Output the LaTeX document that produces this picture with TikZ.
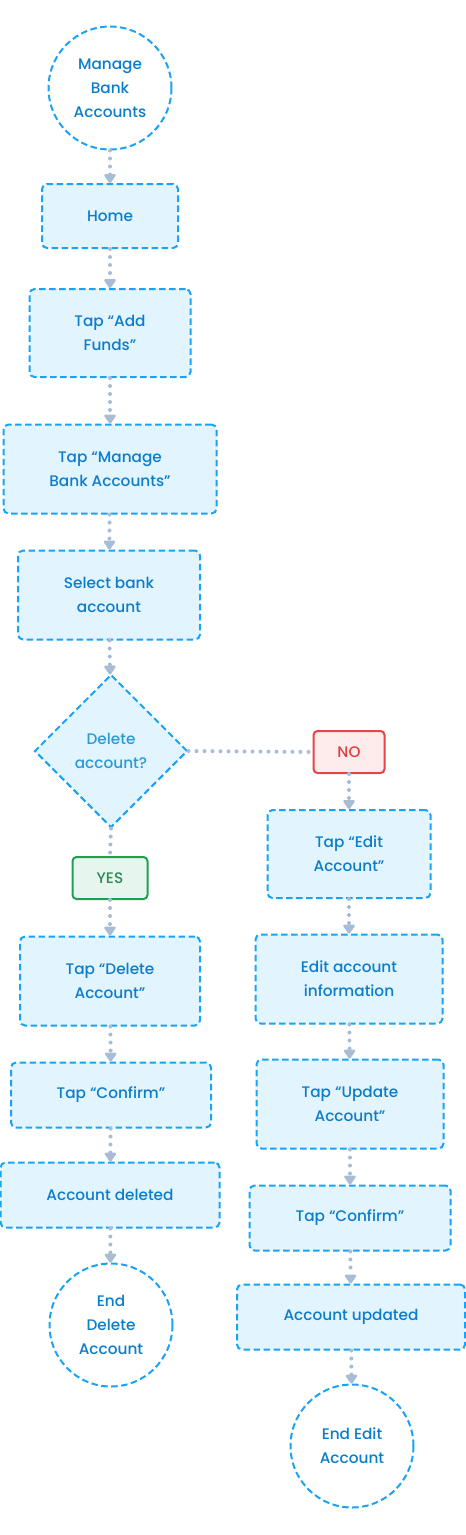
\documentclass[tikz,border=0pt]{standalone}
\usepackage{fontspec}
\setmainfont{Poppins}[UprightFont=* Medium]
\usetikzlibrary{shapes.geometric,arrows.meta}
\definecolor{bblue}{HTML}{1AA3F5}
\definecolor{bfill}{HTML}{E2F4FD}
\definecolor{btext}{HTML}{0C7DCB}
\definecolor{dtext}{HTML}{2A9AD6}
\definecolor{conncol}{HTML}{A8BCD3}
\definecolor{nofill}{HTML}{FEEBEB}
\definecolor{nodraw}{HTML}{E24646}
\definecolor{notext}{HTML}{E03E3E}
\definecolor{yesfill}{HTML}{E6F6EE}
\definecolor{yesdraw}{HTML}{1FA050}
\definecolor{yestext}{HTML}{2E8A58}
\tikzset{
  x=1pt, y=-1pt,
  base/.style={align=center, inner sep=0pt, font=\fontsize{15.3}{24}\selectfont},
  box/.style={base, draw=bblue, fill=bfill, text=btext, line width=2pt,
    dash pattern=on 6.5pt off 3.5pt, rounded corners=5pt},
  endc/.style={base, circle, draw=bblue, fill=white, text=btext, line width=2pt,
    dash pattern=on 6.5pt off 3.5pt, minimum size=123pt},
  dia/.style={base, diamond, aspect=1, draw=bblue, fill=bfill, text=dtext, line width=2pt,
    dash pattern=on 6.5pt off 3.5pt, minimum size=153pt},
  nobox/.style={base, draw=nodraw, fill=nofill, text=notext, line width=2pt, rounded corners=4pt,
    minimum width=71pt, minimum height=42pt},
  yesbox/.style={base, draw=yesdraw, fill=yesfill, text=yestext, line width=2pt, rounded corners=4pt,
    minimum width=75pt, minimum height=42pt},
  conn/.style={draw=conncol, line width=4pt, line cap=round, dash pattern=on 0pt off 8pt},
  arr/.style={conn, -{Triangle[width=13pt,length=10pt,round]}},
}
\begin{document}
\begin{tikzpicture}
\useasboundingbox (0,0) rectangle (466,1535);
% left column
\node[endc] (start) at (110,88) {Manage\\Bank\\Accounts};
\node[box, minimum width=136pt, minimum height=64pt] (home) at (110,216) {Home};
\node[box, minimum width=161pt, minimum height=88pt] (add) at (110,333) {Tap “Add\\Funds”};
\node[box, minimum width=213pt, minimum height=89pt] (manage) at (110,469) {Tap “Manage\\Bank Accounts”};
\node[box, minimum width=182pt, minimum height=89pt] (select) at (109,595) {Select bank\\account};
\node[dia] (dec) at (111,751) {Delete\\account?};
\node[yesbox] (yes) at (110,878) {YES};
\node[box, minimum width=180pt, minimum height=89pt] (del) at (110,981) {Tap “Delete\\Account”};
\node[box, minimum width=200pt, minimum height=65pt] (conf1) at (111,1095) {Tap “Confirm”};
\node[box, minimum width=219pt, minimum height=65pt] (deleted) at (110,1195) {Account deleted};
\node[endc] (end1) at (111,1325) {End\\Delete\\Account};
% right column
\node[nobox] (no) at (349,752) {NO};
\node[box, minimum width=163pt, minimum height=88pt] (edit) at (349,854) {Tap “Edit\\Account”};
\node[box, minimum width=187pt, minimum height=89pt] (info) at (349,979) {Edit account\\information};
\node[box, minimum width=187pt, minimum height=89pt] (upd) at (350,1104) {Tap “Update\\Account”};
\node[box, minimum width=201pt, minimum height=65pt] (conf2) at (350,1218) {Tap “Confirm”};
\node[box, minimum width=228pt, minimum height=65pt] (updated) at (351,1317) {Account updated};
\node[endc] (end2) at (352,1446) {End Edit\\Account};
% connectors
\draw[arr] (start) -- (home);
\draw[arr] (home) -- (add);
\draw[arr] (add) -- (manage);
\draw[arr] (manage) -- (select);
\draw[arr] (select) -- (dec);
\draw[conn] (dec.east) -- (no.west);
\draw[conn] (dec.south) -- (yes.north);
\draw[arr] (yes) -- (del);
\draw[arr] (del) -- (conf1);
\draw[arr] (conf1) -- (deleted);
\draw[arr] (deleted) -- (end1);
\draw[arr] (no) -- (edit);
\draw[arr] (edit) -- (info);
\draw[arr] (info) -- (upd);
\draw[arr] (upd) -- (conf2);
\draw[arr] (conf2) -- (updated);
\draw[arr] (updated) -- (end2);
\end{tikzpicture}
\end{document}
